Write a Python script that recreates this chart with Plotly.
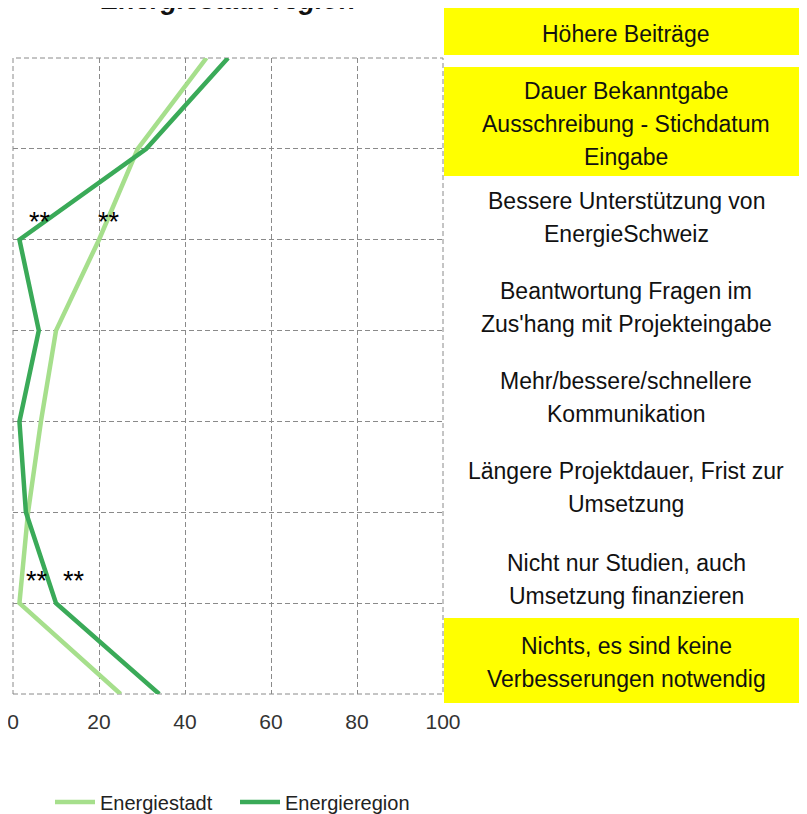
import plotly.graph_objects as go

# ---- data ----
categories = [
    "Höhere Beiträge",
    "Dauer Bekanntgabe Ausschreibung - Stichdatum Eingabe",
    "Bessere Unterstützung von EnergieSchweiz",
    "Beantwortung Fragen im Zus'hang mit Projekteingabe",
    "Mehr/bessere/schnellere Kommunikation",
    "Längere Projektdauer, Frist zur Umsetzung",
    "Nicht nur Studien, auch Umsetzung finanzieren",
    "Nichts, es sind keine Verbesserungen notwendig",
]
label_lines = [
    ["Höhere Beiträge"],
    ["Dauer Bekanntgabe", "Ausschreibung - Stichdatum", "Eingabe"],
    ["Bessere Unterstützung von", "EnergieSchweiz"],
    ["Beantwortung Fragen im", "Zus'hang mit Projekteingabe"],
    ["Mehr/bessere/schnellere", "Kommunikation"],
    ["Längere Projektdauer, Frist zur", "Umsetzung"],
    ["Nicht nur Studien, auch", "Umsetzung finanzieren"],
    ["Nichts, es sind keine", "Verbesserungen notwendig"],
]
highlighted = [True, True, False, False, False, False, False, True]
energiestadt = [45, 29, 20, 10, 6.5, 3.5, 1.5, 25]
energieregion = [50, 31, 1.5, 6, 1.5, 3, 10, 34]
x_ticks = [0, 20, 40, 60, 80, 100]
title_text = "Energiestadt-region"

# ---- layout constants (pixels) ----
OFF = 8                     # page body margin
W, H = 807 - OFF, 814 - OFF
L, R, T, B = 13 - OFF, 807 - 443, 58 - OFF, 814 - 694
PW, PH = W - L - R, H - T - B

def px_x(p):                # page pixel -> paper x
    return (p - OFF - L) / PW

def px_y(p):                # page pixel -> paper y
    return (H - B - (p - OFF)) / PH

LIGHT = "#a6df8c"
DARK = "#3aaa58"
FONT = "Liberation Sans, Arial, sans-serif"

fig = go.Figure()
fig.add_trace(go.Scatter(x=energiestadt, y=categories, mode="lines", name="Energiestadt",
                         line=dict(color=LIGHT, width=4.5)))
fig.add_trace(go.Scatter(x=energieregion, y=categories, mode="lines", name="Energieregion",
                         line=dict(color=DARK, width=4.5)))

grid = dict(showgrid=True, gridcolor="#8a8a8a", gridwidth=1, griddash="5px,3px",
            zeroline=False, showline=False)

fig.update_xaxes(range=[0, 100], tickvals=x_ticks, ticktext=[str(v) for v in x_ticks],
                 tickfont=dict(size=21, color="#333333", family=FONT),
                 ticklabelstandoff=13, ticklabeloverflow="allow", **grid)
fig.update_yaxes(type="category", categoryorder="array", categoryarray=categories,
                 range=[len(categories) - 1, 0], showticklabels=False, **grid)

shapes = [dict(type="rect", xref="x domain", yref="y domain", x0=0, x1=1, y0=0, y1=1,
               line=dict(color="#8a8a8a", width=1, dash="5px,3px"), layer="below")]

# yellow highlight boxes (page pixels)
box_px = {0: (8, 55), 1: (67, 176), 7: (618, 703)}
for i, hl in enumerate(highlighted):
    if hl:
        y0, y1 = box_px[i]
        shapes.append(dict(type="rect", xref="paper", yref="paper",
                           x0=px_x(444), x1=px_x(812), y0=px_y(y1), y1=px_y(y0),
                           fillcolor="#ffff00", line=dict(width=0), layer="below"))

annotations = []
first_line_px = [33, 90, 200, 290, 380, 470, 562, 645]
for i, lines in enumerate(label_lines):
    for j, ln in enumerate(lines):
        annotations.append(dict(text=ln, xref="paper", yref="paper",
                                x=px_x(626), y=px_y(first_line_px[i] + 33 * j + 1),
                                xanchor="center", yanchor="middle", showarrow=False,
                                font=dict(size=23, color="#111111", family=FONT)))

# significance markers
for xv, yv in [(6.2, 1.8), (22.4, 1.8), (5.5, 5.76), (14.3, 5.76)]:
    annotations.append(dict(text="**", x=xv, y=yv, xref="x", yref="y", showarrow=False,
                            font=dict(size=27, color="#000000", family=FONT)))

# title (clipped at the top edge as in the original)
annotations.append(dict(text=f"<b><i>{title_text}</i></b>", xref="paper", yref="paper",
                        x=px_x(228), y=px_y(OFF - 8), xanchor="center", yanchor="middle",
                        showarrow=False, font=dict(size=27, color="#111111", family=FONT)))

fig.update_layout(
    width=W, height=H, margin=dict(l=L, r=R, t=T, b=B, autoexpand=False),
    paper_bgcolor="white", plot_bgcolor="white",
    shapes=shapes, annotations=annotations,
    showlegend=True,
    legend=dict(orientation="h", x=px_x(50), y=px_y(802), xanchor="left", yanchor="middle",
                font=dict(size=20, color="#222222", family=FONT), itemwidth=40,
                entrywidth=130, entrywidthmode="pixels",
                bgcolor="rgba(0,0,0,0)"),
)

fig.write_html("out.html")
